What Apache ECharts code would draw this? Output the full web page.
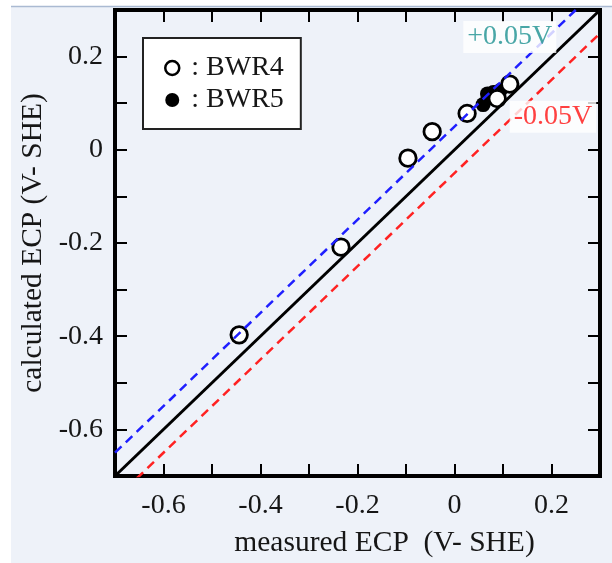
<!DOCTYPE html>
<html>
<head>
<meta charset="utf-8">
<script src="https://cdn.jsdelivr.net/npm/echarts@6/dist/echarts.min.js"></script>
<style>
html,body{margin:0;padding:0;background:#ffffff;}
#chart{width:612px;height:563px;}
</style>
</head>
<body>
<div id="chart"></div>
<script>
// ---- data ----
var bwr4Measured = [-0.444, -0.234, -0.096, -0.046, 0.026, 0.088, 0.114];
var bwr4Calculated = [-0.397, -0.209, -0.018, 0.039, 0.078, 0.110, 0.141];
var bwr5Measured = [0.059, 0.068, 0.080, 0.094];
var bwr5Calculated = [0.097, 0.120, 0.123, 0.127];
var refOffsets = [0, 0.05, -0.05];
var refRange = [-0.7, 0.3];
var refLabels = ['+0.05V', '-0.05V'];
var xTitle = 'measured ECP  (V- SHE)';
var yTitle = 'calculated ECP (V- SHE)';

function zip(a, b) { return a.map(function (v, i) { return [v, b[i]]; }); }
function refLine(off) { return refRange.map(function (x) { return [x, x + off]; }); }

var FONT = 'Liberation Serif';
var TXT = '#161616';

function tickFmt(v) {
  var k = Math.round(v * 10);
  if (k % 2 !== 0) return '';
  return String(k / 10);
}

var axisCommon = {
  type: 'value', min: -0.7, max: 0.3, interval: 0.1,
  axisLine: { show: false, onZero: false },
  splitLine: { show: false },
  axisTick: { show: true, inside: true, length: 12, lineStyle: { color: '#000', width: 2 } }
};

var chart = echarts.init(document.getElementById('chart'), null, { renderer: 'canvas' });
chart.setOption({
  backgroundColor: 'transparent',
  animation: false,
  textStyle: { fontFamily: FONT },
  graphic: [
    { type: 'rect', z: -10, silent: true, shape: { x: 11, y: 6, width: 601, height: 557 }, style: { fill: '#eef2f9' } },
    { type: 'line', z: -9, silent: true, shape: { x1: 11, y1: 6.5, x2: 612, y2: 6.5 }, style: { stroke: '#aabad2', lineWidth: 1.5 } }
  ],
  grid: { left: 115, right: 12, top: 10, bottom: 85, show: true, borderColor: '#000', borderWidth: 4, backgroundColor: 'transparent' },
  legend: {
    orient: 'vertical', left: 143, top: 38,
    padding: [16, 17, 15, 21], itemGap: 4,
    itemWidth: 14, itemHeight: 14,
    backgroundColor: '#ffffff', borderColor: '#222', borderWidth: 2, borderRadius: 0,
    textStyle: { fontFamily: FONT, fontSize: 28, color: TXT },
    formatter: function (n) { return ' : ' + n; },
    data: [
      { name: 'BWR4', icon: 'circle', itemStyle: { color: '#fff', borderColor: '#000', borderWidth: 2.5, opacity: 1 } },
      { name: 'BWR5', icon: 'circle', itemStyle: { color: '#000', borderWidth: 0, opacity: 1 } }
    ]
  },
  xAxis: [
    Object.assign({}, axisCommon, {
      position: 'bottom',
      axisLabel: { formatter: tickFmt, fontFamily: FONT, fontSize: 28, color: TXT, margin: 16, showMinLabel: false, showMaxLabel: false },
      name: xTitle, nameLocation: 'middle', nameGap: 52,
      nameTextStyle: { fontFamily: FONT, fontSize: 29.5, color: TXT, padding: [0, 0, 0, 54] }
    }),
    Object.assign({}, axisCommon, { position: 'top', axisLabel: { show: false } })
  ],
  yAxis: [
    Object.assign({}, axisCommon, {
      position: 'left',
      axisLabel: { formatter: tickFmt, fontFamily: FONT, fontSize: 28, color: TXT, margin: 12, showMinLabel: false, showMaxLabel: false },
      name: yTitle, nameLocation: 'middle', nameGap: 66,
      nameTextStyle: { fontFamily: FONT, fontSize: 29.5, color: TXT }
    }),
    Object.assign({}, axisCommon, { position: 'right', axisLabel: { show: false } })
  ],
  series: [
    {
      name: 'BWR5', type: 'scatter', symbol: 'circle', symbolSize: 15, z: 3,
      itemStyle: { color: '#000', opacity: 1 },
      data: zip(bwr5Measured, bwr5Calculated)
    },
    {
      name: 'BWR4', type: 'scatter', symbol: 'circle', symbolSize: 16.5, z: 4,
      itemStyle: { color: '#fff', borderColor: '#000', borderWidth: 2.8, opacity: 1 },
      data: zip(bwr4Measured, bwr4Calculated)
    },
    {
      type: 'line', z: 6, clip: true, symbol: 'none', silent: true,
      lineStyle: { color: '#000', width: 3 },
      data: refLine(refOffsets[0])
    },
    {
      type: 'line', z: 6, clip: true, symbol: 'none', silent: true,
      lineStyle: { color: '#1f1fff', width: 2.5, type: [9, 6] },
      data: refLine(refOffsets[1])
    },
    {
      type: 'line', z: 6, clip: true, symbol: 'none', silent: true,
      lineStyle: { color: '#ff2222', width: 2.5, type: [9, 6] },
      data: refLine(refOffsets[2])
    },
    {
      type: 'scatter', z: 7, silent: true, symbolSize: 0,
      label: {
        show: true, position: 'inside',
        formatter: function (p) { return p.data.name; },
        fontFamily: FONT, fontSize: 28,
        backgroundColor: '#ffffff', padding: [2, 4, 2, 4]
      },
      data: [
        { name: refLabels[0], value: [0.114, 0.242], label: { color: '#1a9090' } },
        { name: refLabels[1], value: [0.203, 0.071], label: { color: '#ff1010' } }
      ]
    }
  ]
});
</script>
</body>
</html>
